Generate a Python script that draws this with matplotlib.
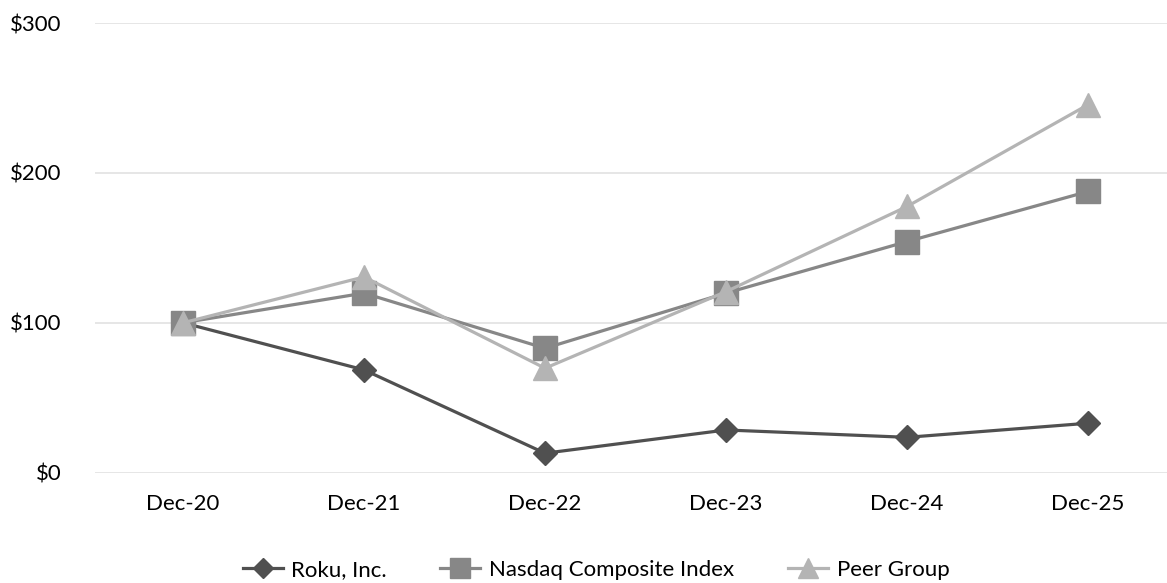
import matplotlib
matplotlib.use("Agg")
import matplotlib.pyplot as plt

categories = ["Dec-20", "Dec-21", "Dec-22", "Dec-23", "Dec-24", "Dec-25"]
roku = [100, 68.6, 13, 28.5, 23.6, 33]
nasdaq = [100, 119.8, 83, 119.8, 154.2, 187.6]
peer = [100, 130.6, 69.7, 120.8, 177.6, 245.5]
yticks = [0, 100, 200, 300]
ytick_labels = ["$0", "$100", "$200", "$300"]

plt.rcParams['font.family'] = ['Lato', 'DejaVu Sans']

W, H = 1167, 583
fig = plt.figure(figsize=(W / 100, H / 100), dpi=100)
left = 95 / W
bottom = (H - 472.7) / H
top = (H - 23) / H
ax = fig.add_axes([left, bottom, 1 - left, top - bottom])

x = list(range(len(categories)))
ax.plot(x, roku, color="#505050", lw=2.3, marker="D", ms=12.5, label="Roku, Inc.", zorder=3)
ax.plot(x, nasdaq, color="#878787", lw=2.3, marker="s", ms=17, label="Nasdaq Composite Index", zorder=3)
ax.plot(x, peer, color="#b4b4b4", lw=2.3, marker="^", ms=17, label="Peer Group", zorder=3)

ax.set_xlim(-0.486, 5.436)
ax.set_ylim(0, 300)
ax.set_yticks(yticks)
ax.set_yticklabels(ytick_labels)
ax.set_xticks(x)
ax.set_xticklabels(categories)
ax.grid(axis="y", color="#e4e4e4", lw=1.3)
ax.set_axisbelow(True)
for s in ax.spines.values():
    s.set_visible(False)
ax.tick_params(axis="both", length=0, labelsize=16, colors="#000000")
ax.tick_params(axis="y", pad=24)
ax.tick_params(axis="x", pad=15)

leg = fig.legend(loc="center", bbox_to_anchor=(596 / W, (H - 570) / H), ncol=3, frameon=False,
                 fontsize=16, handlelength=1.8, columnspacing=2.4, handletextpad=0.4,
                 markerscale=0.85, borderpad=0, borderaxespad=0)
fig.savefig("out.png", dpi=100)
